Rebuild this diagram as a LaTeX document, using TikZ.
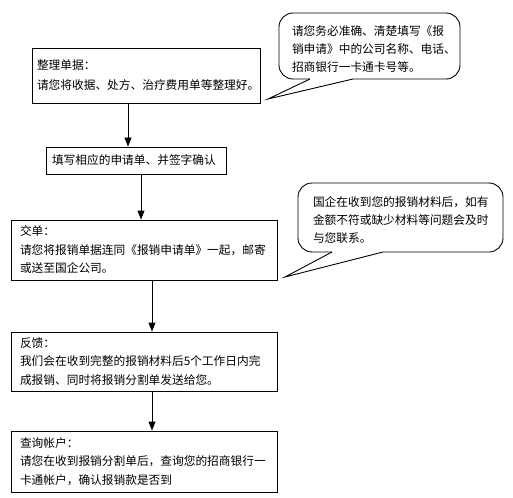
\documentclass[tikz,border=0pt]{standalone}
\usepackage{fontspec}
\setmainfont{Noto Sans CJK SC}
\usetikzlibrary{arrows.meta}
\begin{document}
\begin{tikzpicture}[x=1pt,y=-1pt,
  box/.style={draw, line width=0.9pt, align=left, inner ysep=0pt, font=\fontsize{11.7}{18.5}\selectfont},
  txt/.style={align=left, inner sep=0pt, font=\fontsize{11.7}{18}\selectfont},
  arr/.style={line width=0.9pt, -{Triangle[width=7pt,length=9pt]}},
  bubble/.style={line width=0.9pt, rounded corners=14pt}]
\useasboundingbox (0,0) rectangle (513,497);

\node[box, minimum width=228pt, minimum height=55pt, inner xsep=5pt, text width=218pt,
  font=\fontsize{11.7}{20}\selectfont] (b1) at (146,75.5)
  {整理单据：\\请您将收据、处方、治疗费用单等整理好。};
\node[box, minimum width=180pt, minimum height=27pt, inner xsep=6pt, text width=168pt] (b2) at (136,160.5)
  {填写相应的申请单、并签字确认};
\node[box, minimum width=266pt, minimum height=60pt, inner xsep=9pt, text width=248pt] (b3) at (144,250)
  {交单：\\请您将报销单据连同《报销申请单》一起，邮寄\\或送至国企公司。};
\node[box, minimum width=266pt, minimum height=59pt, inner xsep=9pt, text width=248pt] (b4) at (144,361.5)
  {反馈：\\我们会在收到完整的报销材料后5个工作日内完\\成报销、同时将报销分割单发送给您。};
\node[box, minimum width=266pt, minimum height=61pt, inner xsep=9pt, text width=248pt] (b5) at (144,461.5)
  {查询帐户：\\请您在收到报销分割单后，查询您的招商银行一\\卡通帐户，确认报销款是否到};

\draw[arr] (b1.south -| 128,0) -- (b2.north -| 128,0);
\draw[arr] (b2.south -| 141,0) -- (b3.north -| 141,0);
\draw[arr] (b3.south -| 152,0) -- (b4.north -| 152,0);
\draw[arr] (b4.south -| 152,0) -- (b5.north -| 152,0);

% callout 1
\node[txt, text width=168pt] (c1) at (376,49)
  {请您务必准确、清楚填写《报\\销申请》中的公司名称、电话、\\招商银行一卡通卡号等。};
\coordinate (t1) at (268,99);
\draw[bubble] (310,79) -- (279,79) -- (279,13) -- (460,13) -- (460,79) -- (353,79);
\draw[line width=0.9pt] (353,79) -- (t1) -- (310,79);

% callout 2
\node[txt, text width=180pt] (c2) at (403,220.5)
  {国企在收到您的报销材料后，如有\\金额不符或缺少材料等问题会及时\\与您联系。};
\coordinate (t2) at (285,277);
\draw[bubble] (332,252) -- (298,252) -- (298,183) -- (503,183) -- (503,252) -- (383,252);
\draw[line width=0.9pt] (383,252) -- (t2) -- (332,252);
\end{tikzpicture}
\end{document}
